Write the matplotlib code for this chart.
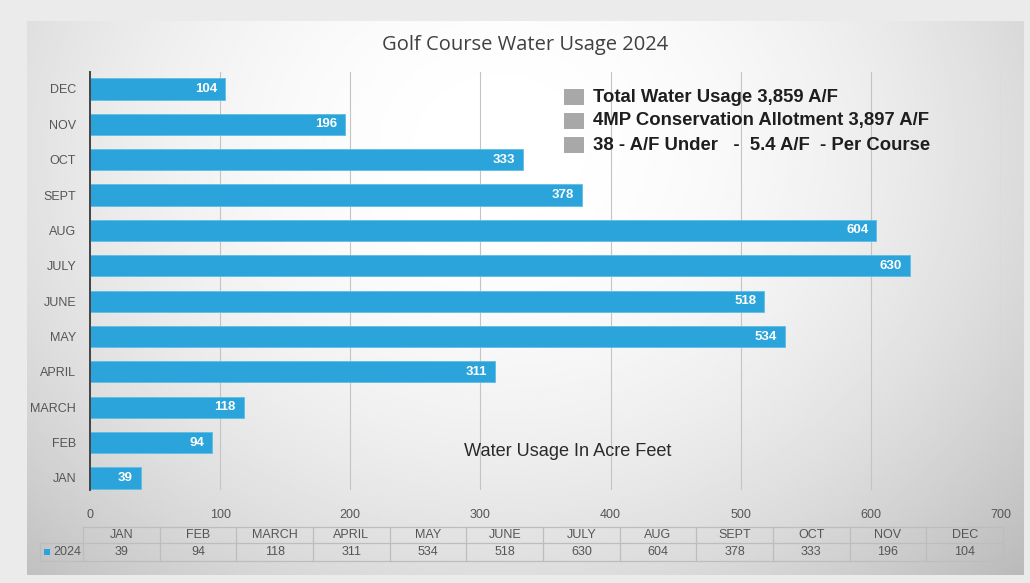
import matplotlib

matplotlib.use("Agg")
import matplotlib.pyplot as plt
import numpy as np

months = ["JAN", "FEB", "MARCH", "APRIL", "MAY", "JUNE",
          "JULY", "AUG", "SEPT", "OCT", "NOV", "DEC"]
usage_2024 = [39, 94, 118, 311, 534, 518, 630, 604, 378, 333, 196, 104]
x_ticks = [0, 100, 200, 300, 400, 500, 600, 700]
notes = [
    "Total Water Usage 3,859 A/F",
    "4MP Conservation Allotment 3,897 A/F",
    "38 - A/F Under   -  5.4 A/F  - Per Course",
]

W, H = 1030, 583
BAR = "#2aa4da"
TXT = "#555555"


def fx(px):
    return px / W


def fy(py):
    return 1 - py / H


fig = plt.figure(figsize=(W / 100, H / 100), dpi=100)
fig.patch.set_facecolor("#ebebeb")

# slide panel with a soft radial shading
bg = fig.add_axes([fx(27), fy(575), fx(1024 - 27), (575 - 21) / H])
gx, gy = np.meshgrid(np.linspace(-1, 1, 400), np.linspace(-1, 1, 220))
r = np.sqrt(((gx + 0.05) / 1.05) ** 2 + ((gy + 0.55) / 1.6) ** 2)
shade = np.clip(1.0 - 0.14 * r ** 2, 0, 1)
bg.imshow(shade, cmap="gray", vmin=0, vmax=1, aspect="auto",
          extent=[0, 1, 0, 1], origin="upper")
bg.set_axis_off()

ax = fig.add_axes([fx(90), fy(490), fx(1001 - 90), (490 - 72) / H])
ax.patch.set_alpha(0)
y = np.arange(len(months))
bars = ax.barh(y, usage_2024, height=0.6, color=BAR, edgecolor="#5fbde6",
               linewidth=0.6, zorder=3)
for yi, v in zip(y, usage_2024):
    ax.text(v - 6, yi, str(v), ha="right", va="center", color="white",
            fontsize=9.5, fontweight="bold", family="Liberation Sans", zorder=4)

ax.set_xlim(0, 700)
ax.set_ylim(-0.34, 11.48)
ax.set_xticks(x_ticks)
ax.set_xticklabels([str(t) for t in x_ticks])
ax.set_yticks(y)
ax.set_yticklabels(months)
ax.tick_params(axis="both", length=0, colors=TXT, labelsize=9)
ax.tick_params(axis="x", pad=14)
ax.tick_params(axis="y", pad=10)
for lab in ax.get_xticklabels() + ax.get_yticklabels():
    lab.set_family("Liberation Sans")
ax.grid(True, axis="x", color="#c4c4c4", lw=0.8, zorder=0)
for s in ["top", "right", "bottom"]:
    ax.spines[s].set_visible(False)
ax.spines["left"].set_color("#444444")
ax.spines["left"].set_linewidth(1.4)
ax.spines["left"].set_zorder(5)

fig.text(fx(525), fy(45), "Golf Course Water Usage 2024", ha="center",
         va="center", fontsize=14.5, color="#404040", family="Open Sans")
fig.text(fx(568), fy(452), "Water Usage In Acre Feet", ha="center",
         va="center", fontsize=13.1, color="#2a2a2a", family="Liberation Sans")

for i, note in enumerate(notes):
    yy = 97 + i * 24
    fig.patches.append(plt.Rectangle((fx(564), fy(yy + 8)), fx(20), 16 / H,
                                     transform=fig.transFigure,
                                     facecolor="#a8a8a8", edgecolor="none"))
    fig.text(fx(593), fy(yy), note, ha="left", va="center", fontsize=13.3,
             fontweight="bold", color="#1e1e1e", family="Liberation Sans")

# data table under the axis
tb = fig.add_axes([fx(40), fy(561), fx(1003 - 40), (561 - 527) / H])
tb.set_xlim(40, 1003)
tb.set_ylim(561, 527)
tb.set_axis_off()
first = 83
colw = (1003 - first) / len(months)
line = dict(color="#bdbdbd", lw=0.9, clip_on=False)
tb.plot([first, 1003], [527, 527], **line)
tb.plot([40, 1003], [543, 543], **line)
tb.plot([40, 1003], [561, 561], **line)
tb.plot([40, 40], [543, 561], **line)
for k in range(len(months) + 1):
    xx = first + k * colw
    tb.plot([xx, xx], [527, 561], **line)
for k, (m, v) in enumerate(zip(months, usage_2024)):
    cx = first + (k + 0.5) * colw
    tb.text(cx, 535, m, ha="center", va="center", fontsize=9, color=TXT,
            family="Liberation Sans")
    tb.text(cx, 552, str(v), ha="center", va="center", fontsize=9,
            color=TXT, family="Liberation Sans")
tb.add_patch(plt.Rectangle((44, 549), 6, 6, facecolor=BAR, edgecolor="none"))
tb.text(53, 552, "2024", ha="left", va="center", fontsize=9, color=TXT,
        family="Liberation Sans")

fig.savefig("out.png", dpi=100, facecolor=fig.get_facecolor())
